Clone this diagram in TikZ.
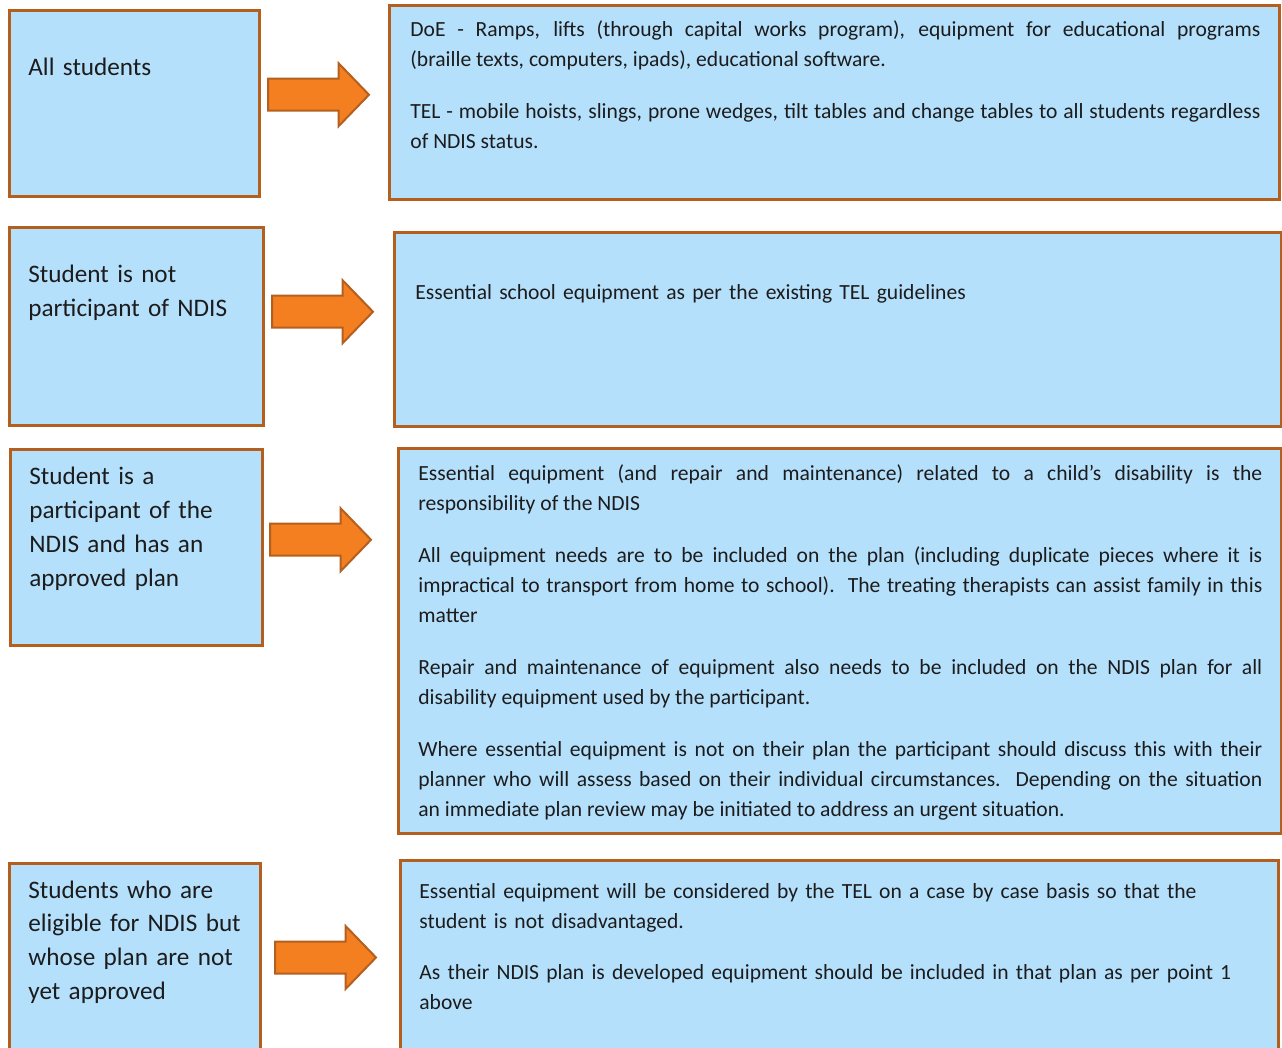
\documentclass[tikz,border=0pt]{standalone}
\usepackage{fontspec}
\setmainfont{Carlito}
\usetikzlibrary{shapes.arrows,calc}
\hyphenpenalty=10000
\exhyphenpenalty=10000
\definecolor{boxfill}{HTML}{B5E0FC}
\definecolor{boxedge}{HTML}{B45F1E}
\definecolor{arrowfill}{HTML}{F47F20}
\definecolor{figtext}{HTML}{1C1C1C}
\tikzset{
  casebox/.style={
    rectangle, draw=boxedge, fill=boxfill, line width=1.5pt,
    anchor=north west, inner sep=0pt
  },
  casetext/.style={
    anchor=base west, inner sep=0pt, text width=115pt, align=left,
    text=figtext, font=\fontsize{12.6}{17}\selectfont
  },
  infotext/.style={
    anchor=base west, inner sep=0pt, text width=422pt,
    text=figtext, font=\fontsize{10.8}{15}\selectfont,
    execute at begin node={\setlength{\parskip}{11pt}}
  },
  blockarrow/.style={
    single arrow, draw=boxedge, fill=arrowfill, line width=1pt,
    anchor=tail, minimum height=50.5pt, inner xsep=0pt, inner ysep=7.5pt,
    single arrow head extend=7.75pt, single arrow tip angle=92
  }
}

\begin{document}
\begin{tikzpicture}[x=0.5pt,y=-0.5pt]
  \useasboundingbox (0,0) rectangle (1282,1048);
  \clip (0,0) rectangle (1282,1048);

  % left column: who
  \node[casebox, minimum width=125.25pt, minimum height=93.25pt] (all) at (7.5,9) {};
  \node[casebox, minimum width=127.25pt, minimum height=99.25pt] (notndis) at (7.5,226) {};
  \node[casebox, minimum width=126.25pt, minimum height=98.25pt] (approved) at (8.5,448) {};
  \node[casebox, minimum width=125.75pt, minimum height=100pt] (pending) at (7.5,862) {};

  \node[casetext] (alltext) at (28,76) {All students};
  \node[casetext] (notndistext) at (28,283) {Student is not\\ participant of NDIS};
  \node[casetext] (approvedtext) at (29,485) {Student is a\\ participant of the\\ NDIS and has an\\ approved plan};
  \node[casetext] (pendingtext) at (28,898) {Students who are\\ eligible for NDIS but\\ whose plan are not\\ yet approved};

  % right column: what is provided
  \node[casebox, minimum width=444.75pt, minimum height=97.25pt] (allinfo) at (388,4) {};
  \node[casebox, minimum width=443.25pt, minimum height=97.25pt] (notndisinfo) at (393,231) {};
  \node[casebox, minimum width=441.25pt, minimum height=192.25pt] (approvedinfo) at (397,447) {};
  \node[casebox, minimum width=438.75pt, minimum height=100pt] (pendinginfo) at (399,859) {};

  \node[infotext, text width=425pt, align=justify] (allinfotext) at (410,37)
    {DoE - Ramps, lifts (through capital works program), equipment for educational programs\linebreak
     (braille texts, computers, ipads), educational software.\par
     TEL - mobile hoists, slings, prone wedges, tilt tables and change tables to all students regardless\linebreak
     of NDIS status.};
  \node[infotext, align=left] (notndisinfotext) at (415,300)
    {Essential school equipment as per the existing TEL guidelines};
  \node[infotext, align=justify] (approvedinfotext) at (418,481)
    {Essential equipment (and repair and maintenance) related to a child's disability is the\linebreak
     responsibility of the NDIS\par
     All equipment needs are to be included on the plan (including duplicate pieces where it is\linebreak
     impractical to transport from home to school).\ \ The treating therapists can assist family in this\linebreak
     matter\par
     Repair and maintenance of equipment also needs to be included on the NDIS plan for all\linebreak
     disability equipment used by the participant.\par
     Where essential equipment is not on their plan the participant should discuss this with their\linebreak
     planner who will assess based on their individual circumstances.\ \ Depending on the situation\linebreak
     an immediate plan review may be initiated to address an urgent situation.};
  \node[infotext, align=left] (pendinginfotext) at (419,898)
    {Essential equipment will be considered by the TEL on a case by case basis so that the\\
     student is not disadvantaged.\par
     As their NDIS plan is developed equipment should be included in that plan as per point 1\\
     above};

  % arrows between the columns
  \node[blockarrow] (allarrow) at ($(all.east)+(6,-9)$) {};
  \node[blockarrow] (notndisarrow) at ($(notndis.east)+(6,-15)$) {};
  \node[blockarrow] (approvedarrow) at ($(approved.east)+(5,-8)$) {};
  \node[blockarrow] (pendingarrow) at ($(pending.east)+(12,-6)$) {};
\end{tikzpicture}
\end{document}
